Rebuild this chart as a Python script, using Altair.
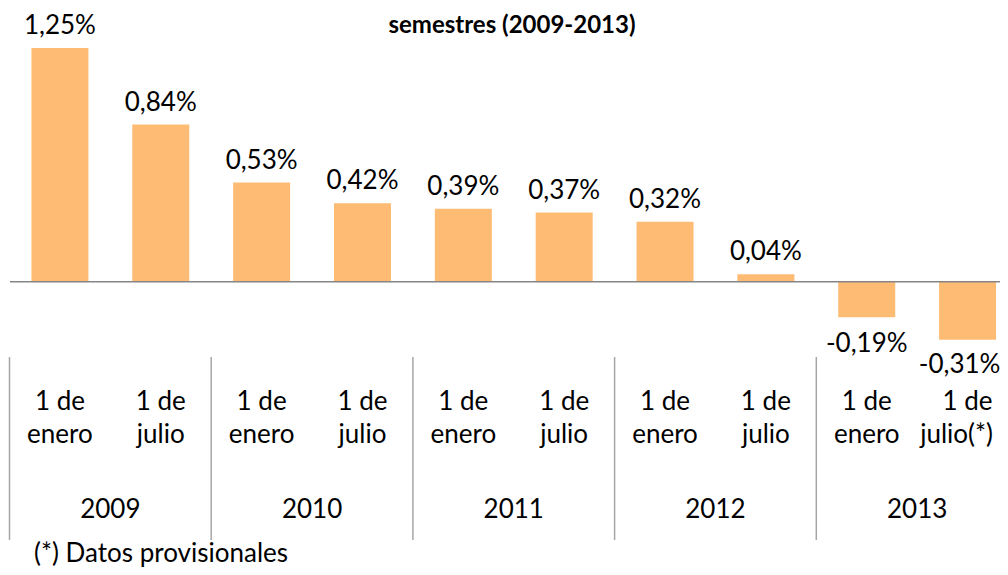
import altair as alt
import pandas as pd

# ---- data ----
values = [1.25, 0.84, 0.53, 0.42, 0.39, 0.37, 0.32, 0.04, -0.19, -0.31]
line1 = ["1 de"] * 10
line2 = ["enero", "julio", "enero", "julio", "enero", "julio",
         "enero", "julio", "enero", "julio(*)"]
years = ["2009", "2010", "2011", "2012", "2013"]
title_text = "semestres (2009-2013)"
note_text = "(*) Datos provisionales"

FONT = "Lato"
FS = 26
BAR = "#FDBB74"

n = len(values)
df = pd.DataFrame({
    "pos": [i + 0.5 for i in range(n)],
    "idx": list(range(n)),
    "value": values,
    "l1": line1,
    "l2": line2,
    "label": [("%.2f" % v).replace(".", ",") + "%" for v in values],
})
ydf = pd.DataFrame({"pos": [2 * k + 1 for k in range(len(years))], "year": years})
ddf = pd.DataFrame({"pos": [2 * k for k in range(len(years) + 1)]})
one = pd.DataFrame({"t": [title_text], "n": [note_text]})

xs = alt.Scale(domain=[0, 10], range=[1.5, 1010], nice=False, zero=False, padding=0)
ys = alt.Scale(domain=[-1.5, 1.5], range=[554.2, -6.8], nice=False, zero=False, padding=0)
X = alt.X("pos:Q", scale=xs, axis=None)

base = alt.Chart(df)
last = "datum.idx == %d" % (n - 1)
notlast = "datum.idx < %d" % (n - 1)

bars = base.mark_bar(size=57, color=BAR, orient="vertical").encode(
    x=X,
    y=alt.Y("value:Q", scale=ys, axis=None),
    y2=alt.datum(0),
)

zero = alt.Chart(one).mark_rule(color="#868686", strokeWidth=1.5).encode(
    x=alt.value(2),
    x2=alt.value(992),
    y=alt.datum(0),
)

pos_lab = base.transform_filter("datum.value >= 0").mark_text(
    font=FONT, fontSize=FS, color="#000", baseline="alphabetic", dy=-14
).encode(x=X, y=alt.Y("value:Q"), text="label:N")

neg_lab = base.transform_filter("datum.value < 0 && " + notlast).mark_text(
    font=FONT, fontSize=FS, color="#000", baseline="top", dy=14
).encode(x=X, y=alt.Y("value:Q"), text="label:N")

# last column sits against the right edge of the picture
last_lab = base.transform_filter(last).mark_text(
    font=FONT, fontSize=FS, color="#000", baseline="top", dy=12, dx=-8
).encode(x=X, y=alt.Y("value:Q"), text="label:N")

cat1 = base.mark_text(font=FONT, fontSize=FS, color="#000", baseline="alphabetic").encode(
    x=X, y=alt.value(402), text="l1:N")
cat2 = base.transform_filter(notlast).mark_text(
    font=FONT, fontSize=FS, color="#000", baseline="alphabetic").encode(
    x=X, y=alt.value(435), text="l2:N")
cat2_last = base.transform_filter(last).mark_text(
    font=FONT, fontSize=FS, color="#000", baseline="alphabetic", dx=-11).encode(
    x=X, y=alt.value(435), text="l2:N")

yr = alt.Chart(ydf).mark_text(font=FONT, fontSize=FS, color="#000", baseline="alphabetic").encode(
    x=X, y=alt.value(510), text="year:N")

div = alt.Chart(ddf).mark_rule(color="#A6A6A6", strokeWidth=1.5).encode(
    x=X, y=alt.value(349), y2=alt.value(532))

title = alt.Chart(one).mark_text(font=FONT, fontSize=24, fontWeight="bold", color="#000",
                                 baseline="alphabetic", align="center").encode(
    x=alt.value(504), y=alt.value(25), text="t:N")

note = alt.Chart(one).mark_text(font=FONT, fontSize=FS, color="#000",
                                baseline="alphabetic", align="left").encode(
    x=alt.value(26), y=alt.value(554), text="n:N")

chart = alt.layer(bars, zero, pos_lab, neg_lab, last_lab, cat1, cat2, cat2_last,
                  yr, div, title, note).properties(
    width=992, height=559, padding=0, autosize=alt.AutoSizeParams(type="none")
).configure_view(stroke=None)

chart.save("out.html", embed_options={"renderer": "svg", "actions": False})
